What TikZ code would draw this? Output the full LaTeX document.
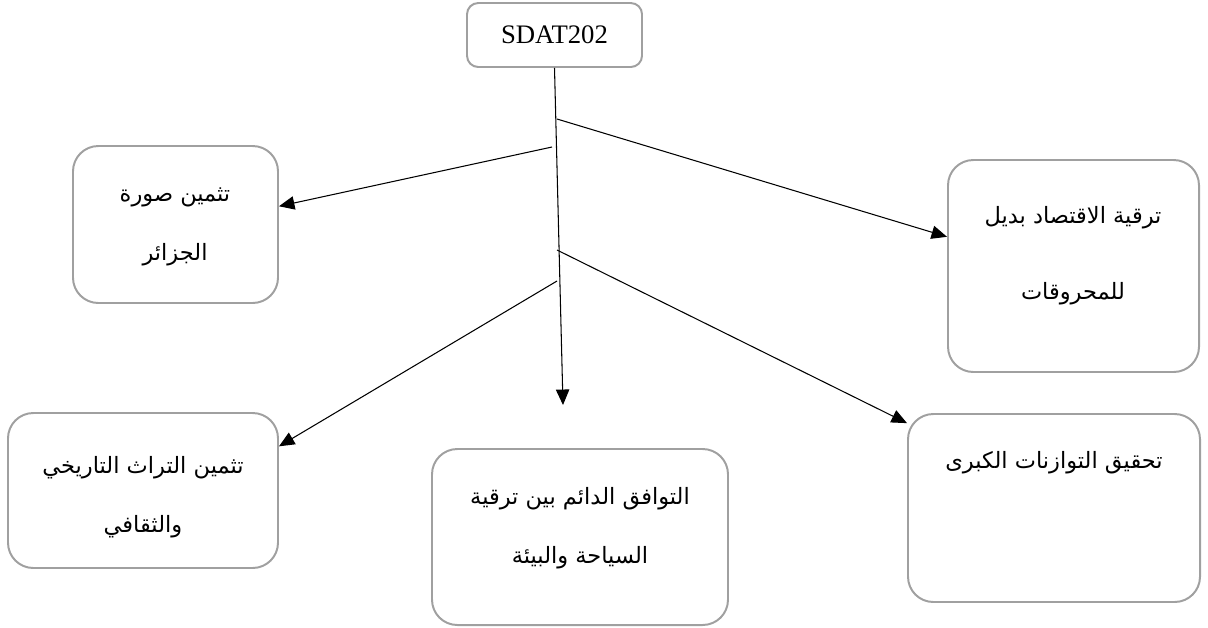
\documentclass[tikz,border=0pt]{standalone}
\usepackage{fontspec}
\setmainfont{Liberation Serif}
\newfontfamily\arabicfont[Script=Arabic]{DejaVu Sans}
\TeXXeTstate=1
\usetikzlibrary{arrows.meta}

\definecolor{boxgray}{RGB}{160,160,160}
\tikzset{
  box/.style={draw=boxgray, line width=1.4pt, rounded corners=18pt, fill=white},
  ar/.style={font=\arabicfont\fontsize{16}{42}\selectfont, align=center, inner sep=0pt},
}

\begin{document}
\begin{tikzpicture}[x=0.025cm, y=-0.025cm, line width=0.75pt,
  -{Triangle[length=11pt,width=9.5pt]}]
	\useasboundingbox (0,0) rectangle (1208,627);

	% boxes
	\node[box, rounded corners=8pt, minimum width=175*0.025cm, minimum height=64*0.025cm] (S) at (554.5,35) {\fontsize{19}{22}\selectfont SDAT202};
	\node[box, minimum width=205*0.025cm, minimum height=157*0.025cm] (L) at (175.5,224.5) {};
	\node[box, minimum width=251*0.025cm, minimum height=212*0.025cm] (R) at (1073.5,266) {};
	\node[box, minimum width=270*0.025cm, minimum height=155*0.025cm] (LB) at (143,490.5) {};
	\node[box, minimum width=296*0.025cm, minimum height=176*0.025cm] (MB) at (580,537) {};
	\node[box, minimum width=292*0.025cm, minimum height=188*0.025cm] (BR) at (1054,508) {};

	% texts
	\node[ar] (Lt) at (175,227) {\beginR تثمين صورة\endR\\\beginR الجزائر\endR};
	\node[ar] (Rt) at (1073,256) {\beginR ترقية الاقتصاد بديل\endR\\[12pt]\beginR للمحروقات\endR};
	\node[ar] (LBt) at (143,497) {\beginR تثمين التراث التاريخي\endR\\\beginR والثقافي\endR};
	\node[ar] (MBt) at (580,528) {\beginR التوافق الدائم بين ترقية\endR\\\beginR السياحة والبيئة\endR};
	\node[ar] (BRt) at (1054,463) {\beginR تحقيق التوازنات الكبرى\endR};

	% branch points on the stem
	\coordinate (tip) at (563,405);
	\coordinate (b1) at (557,119);
	\coordinate (b2) at (552,147);
	\coordinate (b3) at (557,250);
	\coordinate (b4) at (557,281);

	\draw (S.south) -- (tip);
	\draw (b1) -- (R.167);
	\draw (b2) -- (L.10);
	\draw (b3) -- (BR.150);
	\draw (b4) -- (LB.18);
\end{tikzpicture}
\end{document}
